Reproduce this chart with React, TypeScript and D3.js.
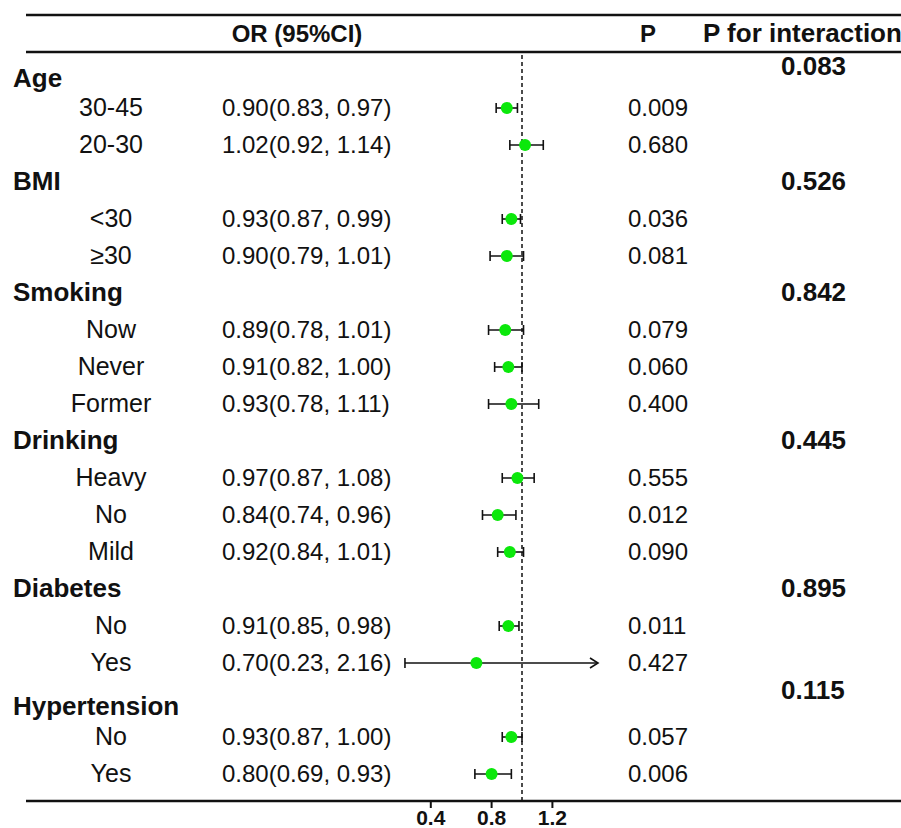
import React, { useRef, useEffect } from "react";
import * as d3 from "d3";

// Forest plot of subgroup odds ratios

const groups = ["Age", "BMI", "Smoking", "Drinking", "Diabetes", "Hypertension"];
const interactionP = ["0.083", "0.526", "0.842", "0.445", "0.895", "0.115"];

const subLabels = ["30-45", "20-30", "<30", "≥30", "Now", "Never", "Former", "Heavy", "No", "Mild", "No", "Yes", "No", "Yes"];
const subGroup = [0, 0, 1, 1, 2, 2, 2, 3, 3, 3, 4, 4, 5, 5];
const orValues = [0.9, 1.02, 0.93, 0.9, 0.89, 0.91, 0.93, 0.97, 0.84, 0.92, 0.91, 0.7, 0.93, 0.8];
const lowerCI = [0.83, 0.92, 0.87, 0.79, 0.78, 0.82, 0.78, 0.87, 0.74, 0.84, 0.85, 0.23, 0.87, 0.69];
const upperCI = [0.97, 1.14, 0.99, 1.01, 1.01, 1.0, 1.11, 1.08, 0.96, 1.01, 0.98, 2.16, 1.0, 0.93];
const pValues = ["0.009", "0.680", "0.036", "0.081", "0.079", "0.060", "0.400", "0.555", "0.012", "0.090", "0.011", "0.427", "0.057", "0.006"];

const xTicks = [0.4, 0.8, 1.2];
const refValue = 1;

const FONT = "'Liberation Sans', Arial, sans-serif";

const ForestPlot = ({ width = 901, height = 828 }) => {
  const svgRef = useRef(null);

  useEffect(() => {
    const svg = d3.select(svgRef.current);
    svg.selectAll("*").remove();
    svg.attr("width", width).attr("height", height);

    // build row list: group header followed by its subgroups
    const rows = [];
    groups.forEach((g, gi) => {
      rows.push({ type: "group", gi });
      subLabels.forEach((_, i) => {
        if (subGroup[i] === gi) rows.push({ type: "item", i });
      });
    });

    const y = d3.scalePoint().domain(d3.range(rows.length)).range([71, 774]);
    const x = d3.scaleLinear().domain([0, 1.5]).range([370, 598]);
    const xMax = x.domain()[1];

    // header
    const g = svg.append("g").attr("font-family", FONT).attr("fill", "#111");
    g.append("line").attr("x1", 26).attr("x2", width).attr("y1", 15).attr("y2", 15)
      .attr("stroke", "#111").attr("stroke-width", 2.5);
    g.append("line").attr("x1", 26).attr("x2", width).attr("y1", 52).attr("y2", 52)
      .attr("stroke", "#111").attr("stroke-width", 2.5);
    g.append("text").attr("x", 297).attr("y", 42).attr("text-anchor", "middle")
      .attr("font-size", 24).attr("font-weight", "bold").text("OR (95%CI)");
    g.append("text").attr("x", 648).attr("y", 42).attr("text-anchor", "middle")
      .attr("font-size", 24).attr("font-weight", "bold").text("P");
    g.append("text").attr("x", 703).attr("y", 42)
      .attr("font-size", 26).attr("font-weight", "bold").text("P for interaction");

    // reference line
    g.append("line").attr("x1", x(refValue)).attr("x2", x(refValue)).attr("y1", 55).attr("y2", 800)
      .attr("stroke", "#111").attr("stroke-width", 1.5).attr("stroke-dasharray", "4,3");

    const last = groups.length - 1;
    rows.forEach((r, ri) => {
      const cy = y(ri);
      if (r.type === "group") {
        // first and last group headers sit a little offset in the original
        const labelDy = r.gi === 0 ? 16 : r.gi === last ? 15 : 8;
        const pDy = r.gi === 0 ? 4 : r.gi === last ? -1 : 8;
        g.append("text").attr("x", 13).attr("y", cy + labelDy)
          .attr("font-size", 26).attr("font-weight", "bold").text(groups[r.gi]);
        g.append("text").attr("x", 781).attr("y", cy + pDy)
          .attr("font-size", 26).attr("font-weight", "bold").text(interactionP[r.gi]);
      } else {
        const i = r.i;
        g.append("text").attr("x", 111).attr("y", cy + 8).attr("text-anchor", "middle")
          .attr("font-size", 25).text(subLabels[i]);
        g.append("text").attr("x", 222).attr("y", cy + 8)
          .attr("font-size", 24)
          .text(`${orValues[i].toFixed(2)}(${lowerCI[i].toFixed(2)}, ${upperCI[i].toFixed(2)})`);
        g.append("text").attr("x", 628).attr("y", cy + 8)
          .attr("font-size", 24).text(pValues[i]);

        const lo = x(lowerCI[i]);
        const clipped = upperCI[i] > xMax;
        const hi = x(Math.min(upperCI[i], xMax));
        g.append("line").attr("x1", lo).attr("x2", hi).attr("y1", cy).attr("y2", cy)
          .attr("stroke", "#111").attr("stroke-width", 1.6);
        g.append("line").attr("x1", lo).attr("x2", lo).attr("y1", cy - 5).attr("y2", cy + 5)
          .attr("stroke", "#111").attr("stroke-width", 1.6);
        if (clipped) {
          g.append("path")
            .attr("d", `M${hi - 8},${cy - 5}L${hi},${cy}L${hi - 8},${cy + 5}`)
            .attr("fill", "none").attr("stroke", "#111").attr("stroke-width", 1.6);
        } else {
          g.append("line").attr("x1", hi).attr("x2", hi).attr("y1", cy - 5).attr("y2", cy + 5)
            .attr("stroke", "#111").attr("stroke-width", 1.6);
        }
        g.append("circle").attr("cx", x(orValues[i])).attr("cy", cy).attr("r", 6)
          .attr("fill", "#0be80b");
      }
    });

    // bottom axis
    g.append("line").attr("x1", 26).attr("x2", width).attr("y1", 801).attr("y2", 801)
      .attr("stroke", "#111").attr("stroke-width", 2.5);
    xTicks.forEach((t) => {
      g.append("line").attr("x1", x(t)).attr("x2", x(t)).attr("y1", 801).attr("y2", 808)
        .attr("stroke", "#111").attr("stroke-width", 2);
      g.append("text").attr("x", x(t)).attr("y", 825).attr("text-anchor", "middle")
        .attr("font-size", 21).attr("font-weight", "bold").text(t.toFixed(1));
    });
  }, [width, height]);

  return <svg ref={svgRef} style={{ position: "absolute", left: 0, top: 0, background: "#fff" }}></svg>;
};

export default function App() {
  return <ForestPlot />;
}
